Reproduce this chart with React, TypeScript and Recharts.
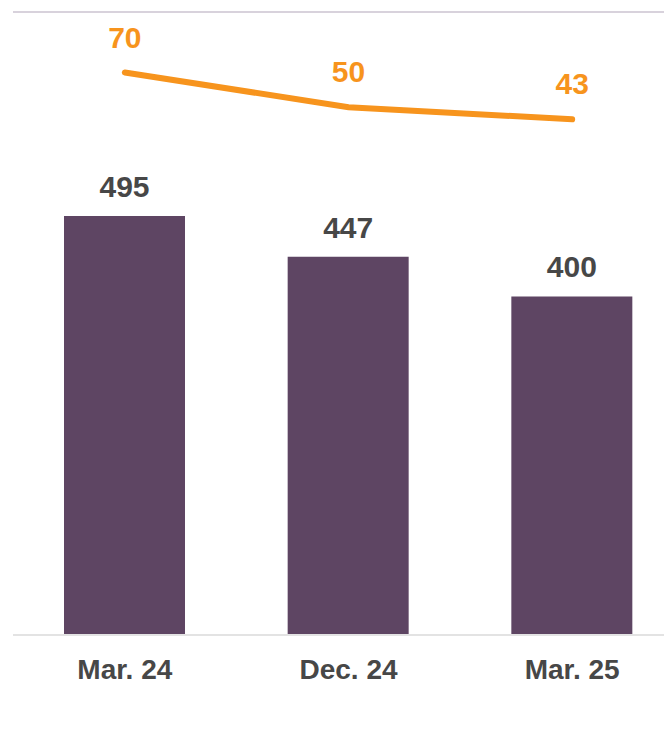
import React from "react";
import { ComposedChart, Bar, Line, XAxis, YAxis, LabelList, ReferenceLine } from "recharts";

const categories = ["Mar. 24", "Dec. 24", "Mar. 25"];
const barValues = [495, 447, 400];
const lineValues = [70, 50, 43];

const data = categories.map((name, i) => ({ name, total: barValues[i], rate: lineValues[i] }));

const FONT = "'Liberation Sans', Arial, sans-serif";
const TEXT_GRAY = "#474747";
const BAR_FILL = "#5e4563";
const LINE_STROKE = "#f7941d";

export default function App() {
  return (
    <div style={{ position: "absolute", left: 0, top: 0, width: 664, height: 733, overflow: "hidden", background: "#fff" }}>
      <ComposedChart width={700} height={733} data={data} margin={{ top: 12, left: 13, right: 16, bottom: 68 }}>
        <XAxis
          dataKey="name"
          axisLine={{ stroke: "#e3e3e3", strokeWidth: 2 }}
          tickLine={false}
          tickMargin={18}
          tick={{ fontSize: 28, fontWeight: 700, fill: TEXT_GRAY, fontFamily: FONT }}
        />
        <YAxis yAxisId="bar" hide domain={[0, 736]} />
        <YAxis yAxisId="line" hide domain={[-255, 105]} orientation="right" />
        <ReferenceLine yAxisId="bar" y={736} stroke="#d8d2dc" strokeWidth={2} />
        <Bar yAxisId="bar" dataKey="total" fill={BAR_FILL} barSize={121} isAnimationActive={false}>
          <LabelList dataKey="total" position="top" offset={19} style={{ fontSize: 30, fontWeight: 700, fill: TEXT_GRAY, fontFamily: FONT }} />
        </Bar>
        <Line
          yAxisId="line"
          dataKey="rate"
          stroke={LINE_STROKE}
          strokeWidth={6}
          strokeLinecap="round"
          dot={false}
          activeDot={false}
          isAnimationActive={false}
        >
          <LabelList dataKey="rate" position="top" offset={25} style={{ fontSize: 30, fontWeight: 700, fill: LINE_STROKE, fontFamily: FONT }} />
        </Line>
      </ComposedChart>
    </div>
  );
}
